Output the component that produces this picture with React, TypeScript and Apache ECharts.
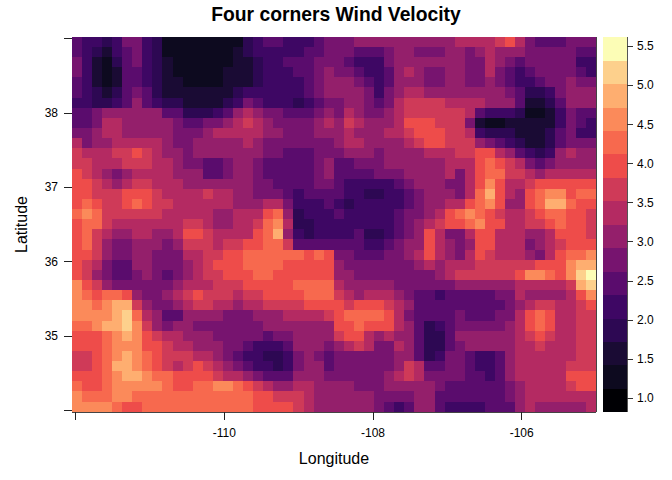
import React, { useEffect, useRef } from "react";
import * as echarts from "echarts";

const FONT = "'Liberation Sans', Arial, sans-serif";

// Colour band index (hex digit, 0 = lowest band), top row first.
const windRows: string[] = [
  "5443466431111111134554445666777777777788889a86555666",
  "5432456431111111234444455666555677666776787776666655",
  "6421356432111111223445556665444677777776687656666644",
  "6421255432111112223444556766544578766776686545666654",
  "5421255432211112223444456777654577766776676544566766",
  "5432356532222222344444456777764678877777777653346777",
  "4433457543322223465444345667765689999888877752235777",
  "5567777775533345787665556768766789999998544431124655",
  "556887777765566789876666787987778aaa9996211222224654",
  "6678877777666788888776667778777889aaa998433322235644",
  "86778888876677777876666666788777789aa999765432235666",
  "988899a987767777777665556667776777788899aa8754347877",
  "9988899988766556776555556755666777777888aba986567777",
  "a987678888777556776555556755556667777868abb998788888",
  "aa98789988877777776655556654444456777668aca889aaaaaa",
  "aa999aaa98888988776665455554433445677768bda87abccabb",
  "aba99aba9988888877788644454344444567788abca77abddbaa",
  "bcb9999998888877888ab7344454444456678abcba9889abbaa9",
  "abb9888888899877889bc8334444444456789aabcaa8899abaa9",
  "ab987788778aa98888abd74344445334567a8668aa888778aaa9",
  "ab976677767999899aabb95555555445677a8767aa8886789aaa",
  "aa9766776668899aabbbbbbaba665556678a8768a9888768abbc",
  "a9865577666789aaabbbbaaaaa76666666787888999999aaacdd",
  "a97655676567899aaabbaaaaaa776666666678999999accbacef",
  "ca976666667888999aaaaabbbb877777666666777777888889de",
  "cbabba766789a999899aaaabbb987888765545555566877778ac",
  "ccbcdd97667899887889999aaaa9aaa98755555555567899889a",
  "ccccdeb8755777766677788889abbbba8655556555668aba8899",
  "bbcddec9767766666667777777aabaaa8753456666678aba8899",
  "aaabcdca9887776666656677779aa87877533577777789a98899",
  "aaabcccaa9887776654445777678986687533567777788988899",
  "99abcdcba9998876544334676566666677534665445788888899",
  "99abddcba989a987654434677566666679855665445788888999",
  "aaabcddcbbaaaa98876555777666666789866665545788888aaa",
  "baabcccccbaabbccba98778877776667777765555556788889aa",
  "cbbbccbbbbbbbbbbbbaa99987777776666775555555678888888",
  "ccccbaabbbbbbbbbbbaaaa987777776545775444455578777778",
];

const legendBreaks = [0.82, 1.12, 1.42, 1.72, 2.02, 2.32, 2.62, 2.92, 3.22, 3.52, 3.82, 4.12, 4.42, 4.72, 5.02, 5.32, 5.62];
const bandColors = [
  "#000004", "#0d0a1f", "#1a0b34", "#2d0853", "#3e0764", "#5a0c6d", "#77146f", "#941f6b",
  "#b42a62", "#cf3a58", "#ee4c4a", "#f7694e", "#fb8a5a", "#feae70", "#fdd08c", "#fcfdb6",
];
const xTicks = [-112, -110, -108, -106];
const xLabels = [-110, -108, -106];
const yTicks = [34, 35, 36, 37, 38, 39];
const yLabels = [35, 36, 37, 38];
const legendTicks = [1.0, 1.5, 2.0, 2.5, 3.0, 3.5, 4.0, 4.5, 5.0, 5.5];

const bandValue = (band: number) => (legendBreaks[band] + legendBreaks[band + 1]) / 2;
const nRows = windRows.length;
const nCols = windRows[0].length;
const lonCats = Array.from({ length: nCols }, (_, i) => String(i));
const latCats = Array.from({ length: nRows }, (_, i) => String(i));
const heatData: number[][] = [];
windRows.forEach((row, r) => {
  row.split("").forEach((ch, c) => {
    heatData.push([c, nRows - 1 - r, bandValue(parseInt(ch, 16))]);
  });
});
const legendCats = bandColors.map((_, i) => String(i));
const legendData = bandColors.map((_, i) => [0, i, bandValue(i)]);

export default function App() {
  const ref = useRef<HTMLDivElement>(null);
  useEffect(() => {
    const chart = echarts.init(ref.current!, undefined, { renderer: "svg", width: 672, height: 480 });
    chart.setOption({
      animation: false,
      backgroundColor: "#fff",
      textStyle: { fontFamily: FONT },
      title: {
        text: "Four corners Wind Velocity",
        left: 331,
        top: 0,
        textAlign: "center",
        textStyle: { fontFamily: FONT, fontSize: 19.3, fontWeight: "bold", color: "#000" },
      },
      grid: [
        { left: 72, top: 37, width: 524, height: 375, show: false },
        { left: 603, top: 37, width: 24, height: 375, show: false },
      ],
      xAxis: [
        { gridIndex: 0, type: "category", data: lonCats, show: false, boundaryGap: true },
        {
          gridIndex: 0,
          type: "value",
          position: "bottom",
          min: -112.05,
          max: -105,
          splitLine: { show: false },
          axisLine: { show: true, onZero: false, lineStyle: { color: "#444", width: 1 } },
          axisTick: { show: true, length: 8, customValues: xTicks, lineStyle: { color: "#222" } },
          axisLabel: { customValues: xLabels, fontSize: 12, color: "#000", margin: 15, fontFamily: FONT, formatter: (v: number) => String(v) },
          name: "Longitude",
          nameLocation: "middle",
          nameGap: 38,
          nameTextStyle: { fontSize: 16, color: "#000", fontFamily: FONT },
        },
        {
          gridIndex: 0,
          type: "value",
          position: "top",
          min: -112.05,
          max: -105,
          splitLine: { show: false },
          axisLine: { show: true, onZero: false, lineStyle: { color: "#444", width: 1 } },
          axisTick: { show: false },
          axisLabel: { show: false },
        },
        { gridIndex: 1, type: "category", data: ["0"], show: false },
      ],
      yAxis: [
        { gridIndex: 0, type: "category", data: latCats, show: false },
        {
          gridIndex: 0,
          type: "value",
          position: "left",
          min: 33.98,
          max: 39.02,
          splitLine: { show: false },
          axisLine: { show: true, onZero: false, lineStyle: { color: "#444", width: 1 } },
          axisTick: { show: true, length: 8, customValues: yTicks, lineStyle: { color: "#222" } },
          axisLabel: { customValues: yLabels, fontSize: 12, color: "#000", margin: 14, fontFamily: FONT },
          name: "Latitude",
          nameLocation: "middle",
          nameGap: 43,
          nameTextStyle: { fontSize: 16, color: "#000", fontFamily: FONT },
        },
        {
          gridIndex: 0,
          type: "value",
          position: "right",
          min: 33.98,
          max: 39.02,
          splitLine: { show: false },
          axisLine: { show: true, onZero: false, lineStyle: { color: "#444", width: 1 } },
          axisTick: { show: false },
          axisLabel: { show: false },
        },
        { gridIndex: 1, type: "category", data: legendCats, show: false },
        {
          gridIndex: 1,
          type: "value",
          position: "right",
          min: 0.82,
          max: 5.62,
          splitLine: { show: false },
          axisLine: { show: true, onZero: false, lineStyle: { color: "#555", width: 1 } },
          axisTick: { show: true, length: 6, customValues: legendTicks, lineStyle: { color: "#333" } },
          axisLabel: { customValues: legendTicks, fontSize: 12, color: "#000", margin: 10, fontFamily: FONT, formatter: (v: number) => v.toFixed(1) },
        },
        {
          gridIndex: 1,
          type: "value",
          position: "left",
          min: 0.82,
          max: 5.62,
          splitLine: { show: false },
          axisLine: { show: true, onZero: false, lineStyle: { color: "#555", width: 1 } },
          axisTick: { show: false },
          axisLabel: { show: false },
        },
      ],
      visualMap: {
        type: "piecewise",
        show: false,
        seriesIndex: [0, 1],
        dimension: 2,
        pieces: bandColors.map((color, i) => ({ gte: legendBreaks[i], lt: legendBreaks[i + 1], color })),
      },
      series: [
        { type: "heatmap", xAxisIndex: 0, yAxisIndex: 0, data: heatData, progressive: 0, itemStyle: { borderWidth: 0 } },
        { type: "heatmap", xAxisIndex: 3, yAxisIndex: 3, data: legendData, progressive: 0, itemStyle: { borderWidth: 0 } },
      ],
    });
    return () => chart.dispose();
  }, []);
  return <div ref={ref} style={{ position: "fixed", left: 0, top: 0, width: 672, height: 480, shapeRendering: "crispEdges" }} />;
}
